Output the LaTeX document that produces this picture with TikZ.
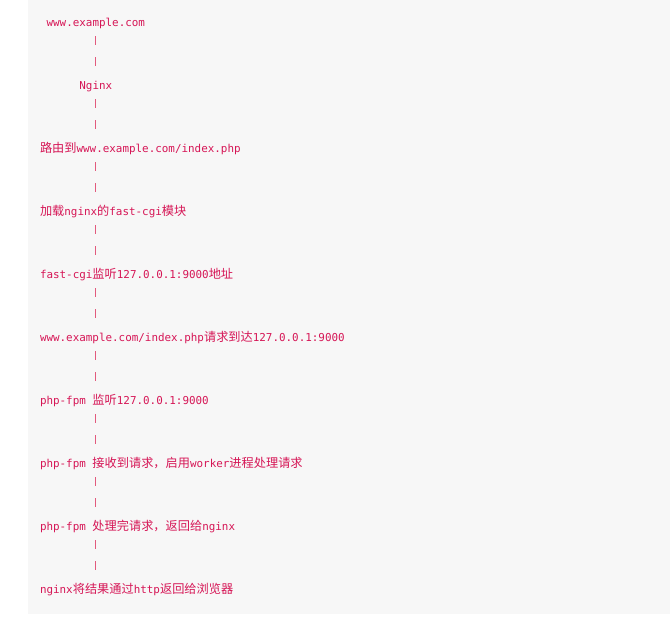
\documentclass[tikz,border=0pt]{standalone}
\usepackage{fontspec}
\newfontfamily\monof{DejaVu Sans Mono}
\newfontfamily\cjkf{Noto Sans CJK SC}
\newcommand\cj[1]{{\cjkf\fontsize{12.2}{14}\selectfont #1}}
\usetikzlibrary{calc}
\definecolor{codered}{RGB}{214,22,86}
\definecolor{pipered}{RGB}{226,90,125}
\definecolor{bggray}{RGB}{247,247,247}
\begin{document}
\begin{tikzpicture}[x=1pt,y=-1pt,
  txt/.style={anchor=base west, inner sep=0pt, outer sep=0pt, text=codered,
    font=\monof\fontsize{10.9}{13}\selectfont},
  pipe/.style={draw=pipered, line width=1.6pt, dash pattern=on 9pt off 12pt}]
\useasboundingbox (0,0) rectangle (670,619);
\fill[bggray] (28,0) rectangle (670,614);
\coordinate (px) at (95.5,0);
\node[txt] (l0) at (46.6,26.5) {www.example.com};
\node[txt] (l1) at (79.4,89.5) {Nginx};
\node[txt] (l2) at (40,152.5) {\cj{路由到}www.example.com/index.php};
\node[txt] (l3) at (40,215.5) {\cj{加载}nginx\cj{的}fast-cgi\cj{模块}};
\node[txt] (l4) at (40,278.5) {fast-cgi\cj{监听}127.0.0.1:9000\cj{地址}};
\node[txt] (l5) at (40,341.5) {www.example.com/index.php\cj{请求到达}127.0.0.1:9000};
\node[txt] (l6) at (40,404.5) {php-fpm \cj{监听}127.0.0.1:9000};
\node[txt] (l7) at (40,467.5) {php-fpm \cj{接收到请求，启用}worker\cj{进程处理请求}};
\node[txt] (l8) at (40,530.5) {php-fpm \cj{处理完请求，返回给}nginx};
\node[txt] (l9) at (40,593.5) {nginx\cj{将结果通过}http\cj{返回给浏览器}};
\foreach \a/\b in {l0/l1,l1/l2,l2/l3,l3/l4,l4/l5,l5/l6,l6/l7,l7/l8,l8/l9}
  \draw[pipe] ($(px |- \a.base)+(0,9.5)$) -- ($(px |- \b.base)+(0,-23.5)$);
\end{tikzpicture}
\end{document}
